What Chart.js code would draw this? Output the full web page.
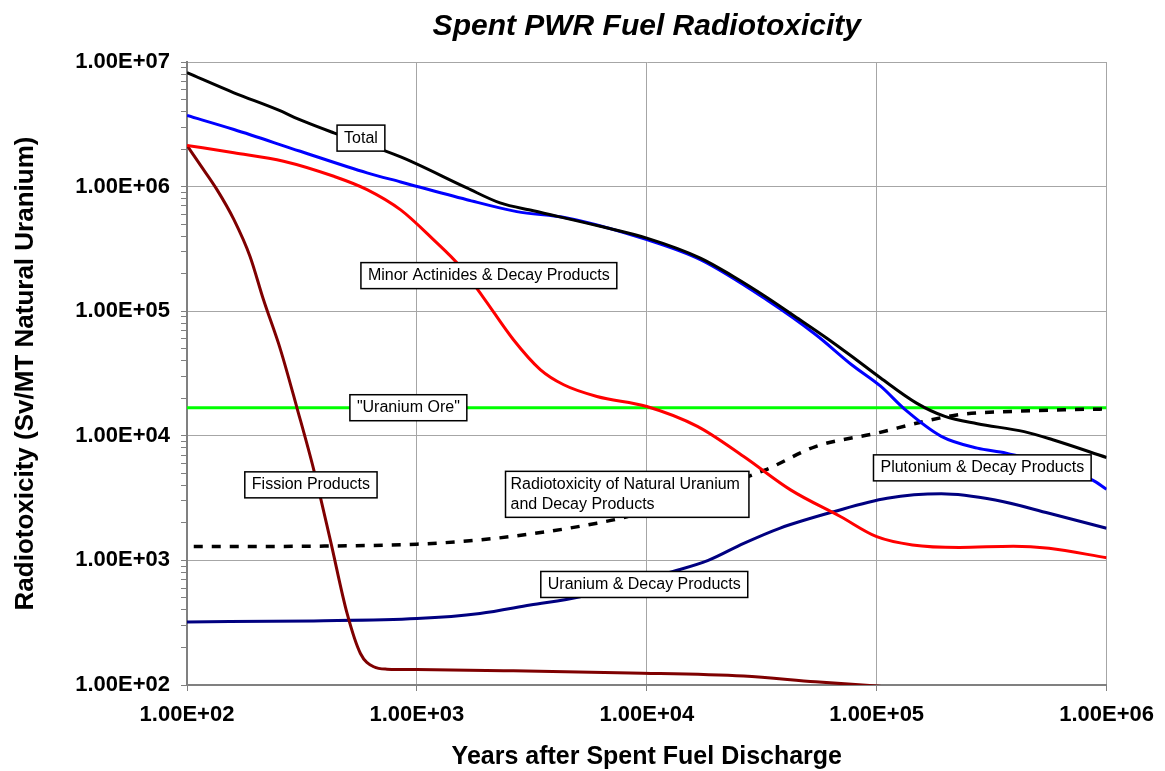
<!DOCTYPE html>
<html>
<head>
<meta charset="utf-8">
<script src="https://cdn.jsdelivr.net/npm/chart.js@4"></script>
<style>
  html, body { margin: 0; padding: 0; background: #fff; }
</style>
</head>
<body>
<canvas id="radioChart" width="1165" height="771"></canvas>
<script>
// values (years after discharge, Sv/MT natural uranium)
const totalYears = [100, 160, 246, 321, 435, 850, 1650, 2300, 3210, 6270, 10000, 17100, 23800, 33300, 46500, 60700, 77800, 104000, 149000, 198000, 274000, 438000, 583000, 1000000];
const totalValues = [8.2e6, 5.66e6, 4.16e6, 3.35e6, 2.7e6, 1.73e6, 9.75e5, 7.4e5, 6.4e5, 4.8e5, 3.86e5, 2.67e5, 1.9e5, 1.29e5, 8.5e4, 6.07e4, 4.35e4, 2.91e4, 1.83e4, 1.43e4, 1.25e4, 1.08e4, 9.3e3, 6.7e3];

const puYears = [100, 160, 311, 607, 850, 1650, 2720, 4490, 10000, 17100, 33300, 54200, 77800, 104000, 133000, 191000, 274000, 366000, 865000, 1000000];
const puValues = [3.72e6, 2.87e6, 1.92e6, 1.29e6, 1.09e6, 7.85e5, 6.3e5, 5.6e5, 3.75e5, 2.59e5, 1.23e5, 6.5e4, 3.72e4, 2.5e4, 1.62e4, 9.9e3, 7.96e3, 7.26e3, 4.43e3, 3.72e3];

const maYears = [100, 160, 263, 435, 607, 850, 1180, 1540, 1950, 2630, 3440, 4350, 6070, 10000, 16600, 26400, 42200, 69800, 100000, 143000, 229000, 393000, 562000, 1000000];
const maValues = [2.14e6, 1.87e6, 1.6e6, 1.21e6, 9.46e5, 6.5e5, 3.75e5, 2.29e5, 1.28e5, 5.9e4, 3.4e4, 2.57e4, 2.07e4, 1.72e4, 1.19e4, 6.82e3, 3.68e3, 2.24e3, 1.55e3, 1.33e3, 1.27e3, 1.3e3, 1.25e3, 1.05e3];

const fpYears = [100, 114, 135, 160, 188, 215, 255, 301, 356, 420, 497, 568, 649, 741, 1000, 2630, 8470, 26400, 54200, 100000, 150000];
const fpValues = [2.14e6, 1.5e6, 9.46e5, 5.43e5, 2.75e5, 1.24e5, 4.92e4, 1.67e4, 5.33e3, 1.46e3, 375, 179, 140, 134, 133, 130, 125, 118, 106, 98, 92];

const uYears = [100, 356, 1000, 1880, 3110, 5130, 12900, 18500, 26400, 37800, 65000, 111000, 191000, 328000, 562000, 1000000];
const uValues = [321, 327, 341, 375, 438, 511, 811, 1000, 1370, 1810, 2460, 3150, 3420, 3050, 2390, 1810];

const natYears = [107, 356, 1000, 1880, 3670, 6070, 8180, 32800, 54200, 100000, 160000, 229000, 393000, 673000, 1000000];
const natValues = [1290, 1300, 1350, 1460, 1700, 1990, 2240, 5330, 8200, 10500, 13000, 14800, 15700, 16200, 16400];

const oreYears = [100, 1000000];
const oreValues = [16800, 16800];

const xTicks = [1e2, 1e3, 1e4, 1e5, 1e6];
const yDecades = [1e2, 1e3, 1e4, 1e5, 1e6, 1e7];

// boxed annotations, anchored at (years, value)
const notes = [
  { lines: ['Total'], year: 571, value: 2.45e6 },
  { lines: ['Minor Actinides & Decay Products'], year: 2056, value: 1.93e5 },
  { lines: ['"Uranium Ore"'], year: 918, value: 1.68e4 },
  { lines: ['Fission Products'], year: 346, value: 4040 },
  { lines: ['Radiotoxicity of Natural Uranium', 'and Decay Products'], year: 8220, value: 3390, left: true },
  { lines: ['Uranium & Decay Products'], year: 9750, value: 641 },
  { lines: ['Plutonium & Decay Products'], year: 288000, value: 5530 }
];

const pts = (xs, ys) => xs.map((x, i) => ({ x: x, y: ys[i] }));
const isDecade = v => Math.abs(Math.log10(v) - Math.round(Math.log10(v))) < 1e-9;
const sci = v => isDecade(v) ? '1.00E+' + String(Math.round(Math.log10(v))).padStart(2, '0') : '';

// minor ticks on the y axis (2..9 per decade)
const yTicks = [];
yDecades.forEach(d => {
  for (let m = 1; m <= 9; m++) {
    if (d * m <= 1e7) yTicks.push(d * m);
  }
});

const boxLabels = {
  id: 'boxLabels',
  afterDatasetsDraw(chart) {
    const { ctx, scales: { x, y } } = chart;
    ctx.save();
    ctx.font = '16px "Liberation Sans", Arial, sans-serif';
    ctx.textBaseline = 'middle';
    notes.forEach(n => {
      const cx = x.getPixelForValue(n.year);
      const cy = y.getPixelForValue(n.value);
      const tw = Math.max(...n.lines.map(t => ctx.measureText(t).width));
      const w = tw + 14;
      const h = n.lines.length * 20 + 6;
      const bx = cx - w / 2, by = cy - h / 2;
      ctx.fillStyle = '#fff';
      ctx.fillRect(bx, by, w, h);
      ctx.strokeStyle = '#000';
      ctx.lineWidth = 1.5;
      ctx.strokeRect(bx, by, w, h);
      ctx.fillStyle = '#000';
      ctx.textAlign = n.left ? 'left' : 'center';
      n.lines.forEach((t, i) => {
        const ty = by + 3 + 10 + i * 20;
        ctx.fillText(t, n.left ? bx + 5 : cx, ty);
      });
    });
    ctx.restore();
  }
};

Chart.defaults.font.family = '"Liberation Sans", Arial, sans-serif';
Chart.defaults.color = '#000';

const line = (data, color, width, extra) => Object.assign({
  data: data,
  borderColor: color,
  backgroundColor: color,
  borderWidth: width,
  pointRadius: 0,
  fill: false,
  cubicInterpolationMode: 'monotone'
}, extra || {});

new Chart(document.getElementById('radioChart').getContext('2d'), {
  type: 'line',
  data: {
    datasets: [
      line(pts(totalYears, totalValues), '#000000', 3),
      line(pts(puYears, puValues), '#0000ff', 3),
      line(pts(maYears, maValues), '#ff0000', 3),
      line(pts(fpYears, fpValues), '#7f0000', 3),
      line(pts(uYears, uValues), '#000080', 3),
      line(pts(natYears, natValues), '#000000', 3.5, { borderDash: [9, 9] }),
      line(pts(oreYears, oreValues), '#00ff00', 3)
    ]
  },
  options: {
    responsive: false,
    animation: false,
    layout: { padding: { left: 0, right: 58, top: 0, bottom: 0 } },
    plugins: {
      legend: { display: false },
      tooltip: { enabled: false },
      title: {
        display: true,
        text: 'Spent PWR Fuel Radiotoxicity',
        fullSize: false,
        color: '#000',
        font: { size: 30, weight: 'bold', style: 'italic' },
        padding: { top: 9, bottom: 17 }
      }
    },
    scales: {
      x: {
        type: 'logarithmic',
        min: 100,
        max: 1e6,
        afterBuildTicks: s => { s.ticks = xTicks.map(v => ({ value: v })); },
        afterFit: s => { s.height = 86; },
        ticks: { callback: v => sci(v), autoSkip: false, maxRotation: 0, padding: 11, color: '#000', font: { size: 22, weight: 'bold' } },
        grid: { color: '#a6a6a6', tickColor: '#808080', tickLength: 6 },
        border: { color: '#808080', width: 2 },
        title: {
          display: true,
          text: 'Years after Spent Fuel Discharge',
          color: '#000',
          font: { size: 25, weight: 'bold', lineHeight: 1.1 },
          padding: { top: 0, bottom: 0 }
        }
      },
      y: {
        type: 'logarithmic',
        min: 100,
        max: 1e7,
        afterBuildTicks: s => { s.ticks = yTicks.map(v => ({ value: v })); },
        afterFit: s => { s.width = 187; },
        ticks: { callback: v => sci(v), autoSkip: false, padding: 11, color: '#000', font: { size: 22, weight: 'bold' } },
        grid: {
          color: c => (c.tick && isDecade(c.tick.value)) ? '#a6a6a6' : 'rgba(0,0,0,0)',
          tickColor: '#808080',
          tickLength: 6
        },
        border: { color: '#808080', width: 2 },
        title: {
          display: true,
          text: 'Radiotoxicity (Sv/MT Natural Uranium)',
          color: '#000',
          font: { size: 26, weight: 'bold', lineHeight: 1.2 },
          padding: { top: 10, bottom: 0 }
        }
      }
    }
  },
  plugins: [boxLabels]
});
</script>
</body>
</html>
